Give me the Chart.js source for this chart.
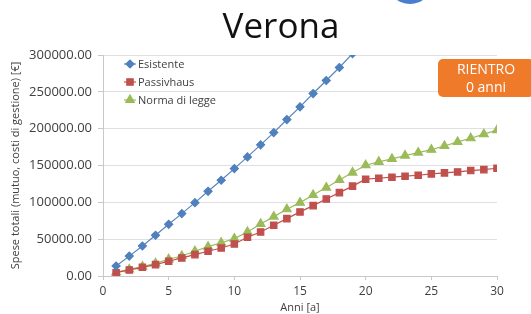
<!DOCTYPE html>
<html>
<head>
<meta charset="utf-8">
<script src="https://cdn.jsdelivr.net/npm/chart.js@4"></script>
<style>
  html, body { margin: 0; padding: 0; background: #ffffff; }
  #wrap { position: relative; width: 531px; height: 314px; overflow: hidden; font-family: "Open Sans", sans-serif; }
  #title { position: absolute; left: 181px; top: 3px; width: 200px; text-align: center; font-size: 35px; color: #111; line-height: 44px; }
  #logo { position: absolute; left: 387px; top: -42px; width: 46px; height: 46px; border-radius: 50%; background: #4a7fcf; }
  #badge { position: absolute; left: 438px; top: 59px; width: 96px; height: 38px; border-radius: 5px; background: #ef7a2a; color: #fff; text-align: center; font-size: 14px; line-height: 18px; padding-top: 1px; box-sizing: border-box; }
  canvas { position: absolute; left: 0; top: 0; }
</style>
</head>
<body>
<div id="wrap">
  <canvas id="c" width="531" height="314"></canvas>
  <div id="logo"></div>
  <div id="title">Verona</div>
  <div id="badge">RIENTRO<br>0 anni</div>
</div>
<script>
const years = [1,2,3,4,5,6,7,8,9,10,11,12,13,14,15,16,17,18,19,20,21,22,23,24,25,26,27,28,29,30];
const esistente = [13600,27000,40700,55300,70200,84700,99600,115000,130000,145800,161700,178000,194700,212400,229600,247700,265400,283000,302000];
const passivhaus = [4500,8200,11800,15400,20000,24500,29000,33600,38000,43500,52600,59800,68900,77900,87000,95500,104600,113200,122000,131400,132700,134100,135500,136800,138600,140000,141300,143100,144400,146300];
const normaDiLegge = [5000,9000,12700,17200,22700,27200,33600,39800,45200,50700,59800,70700,80600,90600,99600,110000,120000,130400,140400,150400,155000,159000,163500,167500,171500,176500,182000,187000,192500,198000];
const yTicks = [0,50000,100000,150000,200000,250000,300000];
const xTicks = [0,5,10,15,20,25,30];
const seriesNames = ["Esistente","Passivhaus","Norma di legge"];
const xTitle = "Anni [a]";
const yTitle = "Spese totali (mutuo, costi di gestione) [€]";

const toXY = arr => arr.map((v, i) => ({x: years[i], y: v}));

const legendPlugin = {
  id: 'inLegend',
  afterDraw(chart) {
    const ctx = chart.ctx;
    const left = 124, top0 = 64, step = 18;
    chart.data.datasets.forEach((ds, i) => {
      const y = top0 + i * step;
      ctx.save();
      ctx.strokeStyle = ds.borderColor;
      ctx.lineWidth = 1.2;
      ctx.beginPath(); ctx.moveTo(left, y); ctx.lineTo(left + 12, y); ctx.stroke();
      ctx.fillStyle = ds.pointBackgroundColor;
      ctx.strokeStyle = ds.pointBackgroundColor;
      Chart.helpers.drawPoint(ctx, {pointStyle: ds.pointStyle, radius: ds.pointRadius, borderWidth: 1, rotation: 0}, left + 6, y);
      ctx.fillStyle = '#404040';
      ctx.font = '11px "Open Sans"';
      ctx.textBaseline = 'middle';
      ctx.fillText(ds.label, left + 14, y + 0.5);
      ctx.restore();
    });
  }
};

new Chart(document.getElementById('c'), {
  type: 'line',
  data: {
    datasets: [
      { label: seriesNames[0], data: toXY(esistente), borderColor: '#5a86bf', backgroundColor: '#4f81bd', pointBackgroundColor: '#4f81bd', pointBorderColor: '#4f81bd', pointStyle: 'rectRot', pointRadius: 4, borderWidth: 1.2, clip: 0 },
      { label: seriesNames[1], data: toXY(passivhaus), borderColor: '#c0504d', backgroundColor: '#c0504d', pointBackgroundColor: '#c0504d', pointBorderColor: '#c0504d', pointStyle: 'rect', pointRadius: 4.5, borderWidth: 1.2, clip: 0 },
      { label: seriesNames[2], data: toXY(normaDiLegge), borderColor: '#9bbb59', backgroundColor: '#9bbb59', pointBackgroundColor: '#9bbb59', pointBorderColor: '#9bbb59', pointStyle: 'triangle', pointRadius: 5, borderWidth: 1.2, clip: 0 }
    ]
  },
  options: {
    responsive: false,
    animation: false,
    devicePixelRatio: 1,
    layout: { padding: { left: 0, right: 34, top: 55, bottom: 0 } },
    plugins: { legend: { display: false }, title: { display: false }, tooltip: { enabled: false } },
    scales: {
      x: {
        type: 'linear', min: 0, max: 30,
        afterBuildTicks: s => { s.ticks = xTicks.map(v => ({value: v})); },
        afterFit: s => { s.height = 38; },
        grid: { display: true, drawOnChartArea: false, drawTicks: true, tickLength: 4, color: '#c8c8c8' },
        border: { display: true, color: '#c8c8c8' },
        ticks: { color: '#404040', font: { family: 'Open Sans', size: 12 }, padding: 4, maxRotation: 0 },
        title: { display: true, text: xTitle, color: '#404040', font: { family: 'Open Sans', size: 11 }, padding: { top: 0, bottom: 0 } }
      },
      y: {
        type: 'linear', min: 0, max: 300000,
        afterBuildTicks: s => { s.ticks = yTicks.map(v => ({value: v})); },
        afterFit: s => { s.width = 103; },
        grid: { color: '#e0e0e0', drawTicks: true, tickLength: 5, tickColor: '#c8c8c8' },
        border: { display: true, color: '#c8c8c8' },
        ticks: { color: '#404040', font: { family: 'Open Sans', size: 13 }, padding: 6, callback: v => v.toFixed(2) },
        title: { display: true, text: yTitle, color: '#404040', font: { family: 'Open Sans', size: 11 }, padding: { top: 9, bottom: 0 } }
      }
    }
  },
  plugins: [legendPlugin]
});
</script>
</body>
</html>
